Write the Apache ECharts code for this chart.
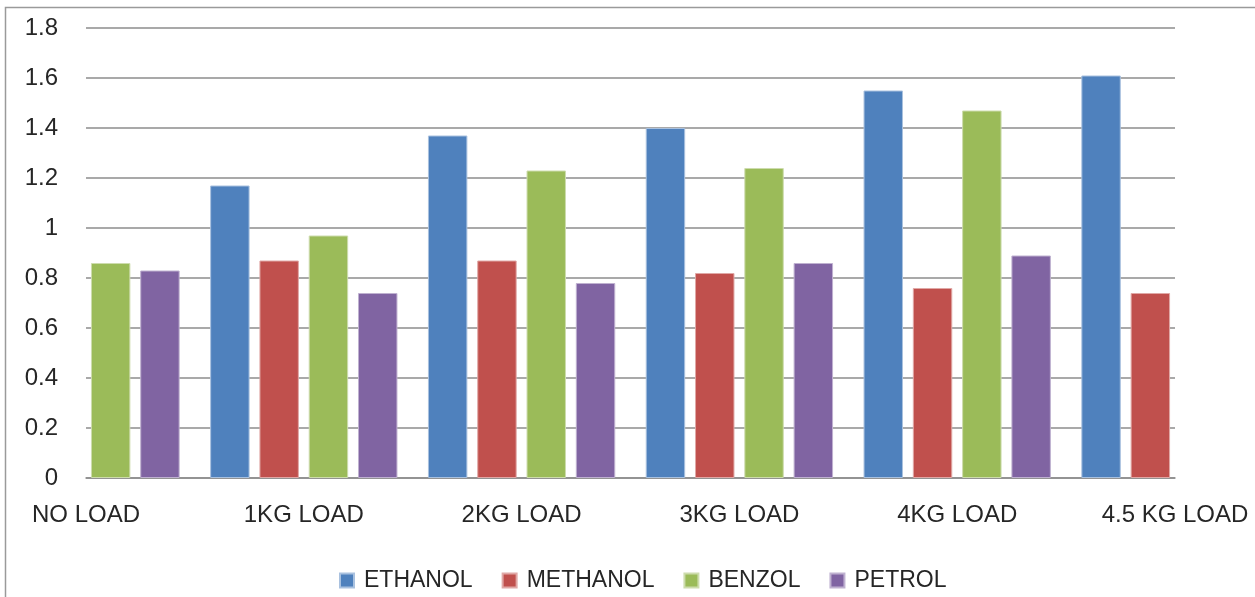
<!DOCTYPE html>
<html>
<head>
<meta charset="utf-8">
<title>Fuel comparison by load</title>
<script src="https://cdn.jsdelivr.net/npm/echarts@6/dist/echarts.min.js"></script>
<style>
  html, body { margin: 0; padding: 0; background: #ffffff; }
  #chart { width: 1255px; height: 597px; }
</style>
</head>
<body>
<div id="chart"></div>
<script>
// Load conditions along the x axis
const categories = ['NO LOAD', '1KG LOAD', '2KG LOAD', '3KG LOAD', '4KG LOAD', '4.5 KG LOAD'];

// Measured values per fuel (null where no bar is shown)
const ethanol  = [null, 1.17, 1.37, 1.40, 1.55, 1.61];
const methanol = [null, 0.87, 0.87, 0.82, 0.76, 0.74];
const benzol   = [0.86, 0.97, 1.23, 1.24, 1.47, null];
const petrol   = [0.83, 0.74, 0.78, 0.86, 0.89, null];

const seriesNames = ['ETHANOL', 'METHANOL', 'BENZOL', 'PETROL'];
const seriesColors = ['#4F81BD', '#C0504D', '#9BBB59', '#8064A2'];
const seriesEdges = ['#a9c1df', '#e0a8a6', '#cddcad', '#bfb1d0'];
const seriesData = [ethanol, methanol, benzol, petrol];

const chart = echarts.init(document.getElementById('chart'), null, { renderer: 'canvas' });

const FONT = '"Liberation Sans", Arial, sans-serif';
const GRID_COLOR = '#8c8c8c';

chart.setOption({
  backgroundColor: '#ffffff',
  animation: false,
  color: seriesColors,
  grid: { left: 86, right: 80, top: 28, bottom: 119, containLabel: false },
  graphic: [{
    type: 'rect',
    silent: true,
    shape: { x: 5.5, y: 7.5, width: 1400, height: 800 },
    style: { fill: 'none', stroke: '#9a9a9a', lineWidth: 1.5 }
  }],
  legend: {
    data: seriesNames,
    left: 334,
    top: 564,
    icon: 'rect',
    itemWidth: 14,
    itemHeight: 14,
    itemGap: 29,
    textStyle: { fontFamily: FONT, fontSize: 23, color: '#262626', padding: [0, 0, 0, 5] }
  },
  xAxis: {
    type: 'category',
    data: categories,
    boundaryGap: false,
    axisLine: { show: true, lineStyle: { color: GRID_COLOR, width: 1.5 } },
    axisTick: { show: false },
    splitLine: { show: false },
    axisLabel: {
      interval: 0,
      margin: 25,
      fontFamily: FONT,
      fontSize: 24,
      color: '#262626'
    }
  },
  yAxis: {
    type: 'value',
    min: 0,
    max: 1.8,
    interval: 0.2,
    axisLine: { show: false },
    axisTick: { show: false },
    splitLine: { show: true, lineStyle: { color: GRID_COLOR, width: 1.5 } },
    axisLabel: {
      margin: 28,
      fontFamily: FONT,
      fontSize: 24,
      color: '#262626',
      formatter: v => String(Math.round(v * 10) / 10)
    }
  },
  series: seriesNames.map((name, i) => ({
    name,
    type: 'bar',
    data: seriesData[i],
    clip: true,
    barGap: '25%',
    barCategoryGap: '14%',
    itemStyle: { color: seriesColors[i], borderColor: seriesEdges[i], borderWidth: 1 }
  }))
});
</script>
</body>
</html>
